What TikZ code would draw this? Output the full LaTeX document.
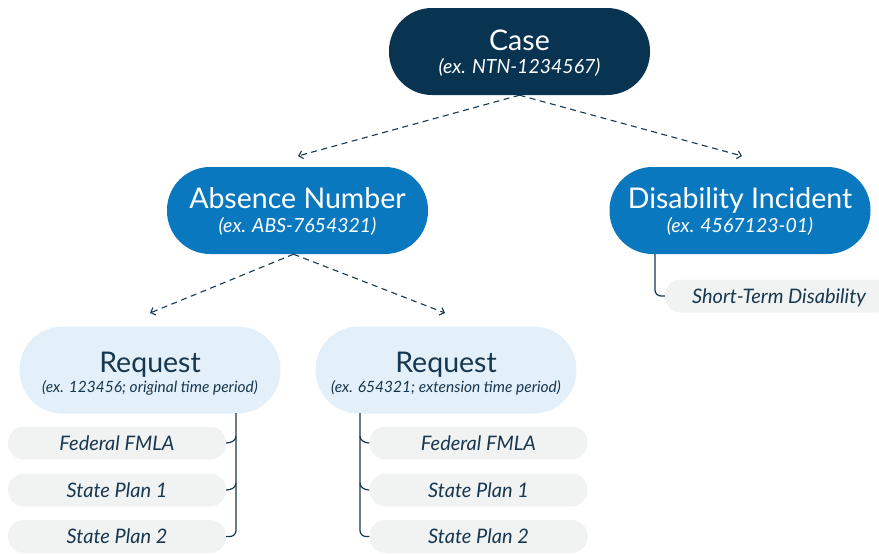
\documentclass[tikz,border=0pt]{standalone}
\usepackage{fontspec}
\setmainfont{Lato}
\usetikzlibrary{arrows.meta}
\definecolor{navy}{HTML}{083452}
\definecolor{midblue}{HTML}{0A78BF}
\definecolor{paleblue}{HTML}{E3F0F9}
\definecolor{itemgrey}{HTML}{F1F3F3}
\definecolor{inkc}{HTML}{17364F}
\begin{document}
\begin{tikzpicture}[x=1pt,y=1pt,
  pill/.style={rounded corners=43pt, minimum width=261pt, minimum height=87pt, inner sep=0pt},
  casebox/.style={pill, fill=navy},
  midbox/.style={pill, fill=midblue},
  reqbox/.style={pill, fill=paleblue},
  ttl/.style={anchor=base, inner sep=0pt, font=\fontsize{28.5}{30}\selectfont},
  subt/.style={anchor=base, inner sep=0pt, font=\fontsize{19.5}{22}\selectfont\itshape},
  subsm/.style={anchor=base, inner sep=0pt, font=\fontsize{15.5}{18}\selectfont\itshape, text=inkc},
  itembox/.style={rounded corners=16pt, minimum width=218pt, minimum height=33pt, inner sep=0pt, text height=15pt, text depth=1pt, fill=itemgrey, text=inkc, font=\fontsize{20}{22}\selectfont\itshape},
  dasharrow/.style={draw=inkc, line width=1.1pt, dash pattern=on 6pt off 4.5pt, -{Straight Barb[length=4pt,width=8pt]}},
  brace/.style={draw=inkc, line width=1.2pt, rounded corners=6pt},
  hook/.style={draw=inkc, line width=1.2pt}
]
\useasboundingbox (0,0) rectangle (879,-554);

\node[casebox] (case) at (519.5,-51.5) {};
\node[ttl, text=white] (caset) at ([yshift=1.5pt]case.center) {Case};
\node[subt, text=white] (cases) at ([yshift=-22pt]case.center) {(ex. NTN-1234567)};

\node[midbox] (abs) at (297.5,-210.5) {};
\node[ttl, text=white] (abst) at ([yshift=2pt]abs.center) {Absence Number};
\node[subt, text=white] (abss) at ([yshift=-22pt]abs.center) {(ex. ABS-7654321)};

\node[midbox] (dis) at (740,-210.5) {};
\node[ttl, text=white] (dist) at ([yshift=2pt]dis.center) {Disability Incident};
\node[subt, text=white] (diss) at ([yshift=-22pt]dis.center) {(ex. 4567123-01)};

\node[reqbox] (r1) at (150,-370) {};
\node[ttl, text=inkc] (r1t) at ([yshift=-2pt]r1.center) {Request};
\node[subsm] (r1s) at ([yshift=-22.5pt]r1.center) {(ex. 123456; original time period)};

\node[reqbox] (r2) at (446,-370) {};
\node[ttl, text=inkc] (r2t) at ([yshift=-2pt]r2.center) {Request};
\node[subsm] (r2s) at ([yshift=-22.5pt]r2.center) {(ex. 654321; extension time period)};

\node[itembox] (f1) at (117,-443) {Federal FMLA};
\node[itembox] (s11) at (117,-490) {State Plan 1};
\node[itembox] (s12) at (117,-536.5) {State Plan 2};
\node[itembox] (f2) at (478.5,-443) {Federal FMLA};
\node[itembox] (s21) at (478.5,-490) {State Plan 1};
\node[itembox] (s22) at (478.5,-536.5) {State Plan 2};
\node[itembox, minimum width=228pt] (std) at (779,-296) {Short-Term Disability};

\coordinate (c1) at (298,-156);
\coordinate (c2) at (742,-156);
\coordinate (a1) at (150,-313);
\coordinate (a2) at (445,-313);
\draw[dasharrow] (case.south) -- (c1);
\draw[dasharrow] (case.south) -- (c2);
\draw[dasharrow] ([xshift=-4pt]abs.south) -- (a1);
\draw[dasharrow] ([xshift=-4pt]abs.south) -- (a2);

% left brace
\coordinate (b1) at (236,-413);
\draw[brace] (b1) |- (s12.east);
\draw[hook] ([yshift=7pt]f1.east -| b1) to[out=-90,in=0] (f1.east);
\draw[hook] ([yshift=7pt]s11.east -| b1) to[out=-90,in=0] (s11.east);
% right brace
\coordinate (b2) at (360,-413);
\draw[brace] (b2) |- (s22.west);
\draw[hook] ([yshift=7pt]f2.west -| b2) to[out=-90,in=180] (f2.west);
\draw[hook] ([yshift=7pt]s21.west -| b2) to[out=-90,in=180] (s21.west);
% disability
\coordinate (b3) at (655,-254);
\draw[brace] (b3) |- (std.west);
\end{tikzpicture}
\end{document}
